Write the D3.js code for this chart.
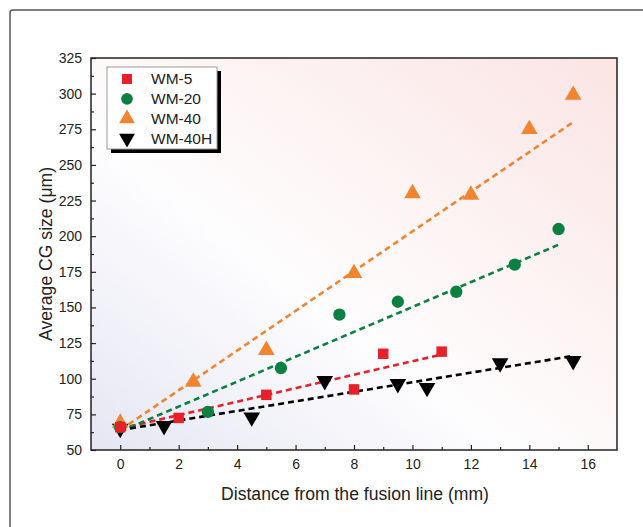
<!DOCTYPE html>
<html>
<head>
<meta charset="utf-8">
<script src="https://cdn.jsdelivr.net/npm/d3@7"></script>
<style>
  body { margin: 0; background: #fff; }
  text { font-family: "Liberation Sans", Arial, sans-serif; }
</style>
</head>
<body>
<svg id="chart" width="643" height="527"></svg>
<script>
// data
const wm5X = [0, 2, 5, 8, 9, 11];
const wm5Y = [66, 72.5, 88.7, 92.5, 117.5, 119];
const wm20X = [0, 3, 5.5, 7.5, 9.5, 11.5, 13.5, 15];
const wm20Y = [66, 76.7, 107.5, 145, 154, 161, 180, 205];
const wm40X = [0, 2.5, 5, 8, 10, 12, 14, 15.5];
const wm40Y = [69, 97.8, 120, 174, 230, 229, 275, 299];
const wm40hX = [0, 1.5, 4.5, 7, 9.5, 10.5, 13, 15.5];
const wm40hY = [65, 67, 73, 98.5, 96.4, 93.7, 111, 112.5];
// fitted trend lines [x start, y start, x end, y end]
const fit5 = [0, 65, 11, 117];
const fit20 = [0, 63, 15, 194];
const fit40 = [0, 64, 15.5, 280];
const fit40h = [0, 64, 15.5, 116];

const xTicks = [0, 2, 4, 6, 8, 10, 12, 14, 16];
const yTicks = [50, 75, 100, 125, 150, 175, 200, 225, 250, 275, 300, 325];

const svg = d3.select("#chart");
const margin = { top: 58, right: 26, bottom: 77, left: 91 };
const width = 643 - margin.left - margin.right;
const height = 527 - margin.top - margin.bottom;

// outer frame
svg.append("rect")
  .attr("x", 10).attr("y", 10)
  .attr("width", 700).attr("height", 600)
  .attr("rx", 3)
  .attr("fill", "none")
  .attr("stroke", "#555")
  .attr("stroke-width", 1.5);

const defs = svg.append("defs");
const grad = defs.append("linearGradient")
  .attr("id", "bg")
  .attr("x1", "0%").attr("y1", "100%")
  .attr("x2", "100%").attr("y2", "0%");
grad.append("stop").attr("offset", "0%").attr("stop-color", "#e6e6f3");
grad.append("stop").attr("offset", "40%").attr("stop-color", "#fdfdfe");
grad.append("stop").attr("offset", "60%").attr("stop-color", "#fdf5f5");
grad.append("stop").attr("offset", "100%").attr("stop-color", "#fbe4e4");

const x = d3.scaleLinear().domain([-1, 17]).range([0, width]);
const y = d3.scaleLinear().domain([50, 325]).range([height, 0]);

const g = svg.append("g")
  .attr("transform", `translate(${margin.left},${margin.top})`);

g.append("rect")
  .attr("width", width).attr("height", height)
  .attr("fill", "url(#bg)");

// axes with inward ticks
const xAxis = g.append("g")
  .attr("transform", `translate(0,${height})`)
  .call(d3.axisBottom(x).tickValues(xTicks).tickSize(-5).tickPadding(9));
const xMinor = g.append("g")
  .attr("transform", `translate(0,${height})`)
  .call(d3.axisBottom(x).tickValues(xTicks.map((d) => d + 1).filter((d) => d < 17))
    .tickSize(-3).tickFormat(""));
const yAxis = g.append("g")
  .call(d3.axisLeft(y).tickValues(yTicks).tickSize(-5).tickPadding(9));
const yMinor = g.append("g")
  .call(d3.axisLeft(y).tickValues(yTicks.slice(0, -1).map((d) => d + 12.5))
    .tickSize(-3).tickFormat(""));

[xAxis, xMinor, yAxis, yMinor].forEach((a) => {
  a.select(".domain").remove();
  a.selectAll(".tick line").attr("stroke", "#222").attr("stroke-width", 1.2);
  a.selectAll(".tick text")
    .attr("fill", "#222")
    .style("font-size", "14px")
    .style("font-family", "Liberation Sans, Arial, sans-serif");
});

g.append("rect")
  .attr("width", width).attr("height", height)
  .attr("fill", "none")
  .attr("stroke", "#222")
  .attr("stroke-width", 1.5);

// axis titles
svg.append("text")
  .attr("x", margin.left + width / 2 + 1)
  .attr("y", 500)
  .attr("text-anchor", "middle")
  .style("font-size", "17.6px")
  .attr("fill", "#222")
  .text("Distance from the fusion line (mm)");

svg.append("text")
  .attr("transform", `translate(52,${margin.top + height / 2}) rotate(-90)`)
  .attr("text-anchor", "middle")
  .style("font-size", "17.6px")
  .attr("fill", "#222")
  .text("Average CG size (μm)");

const series = [
  { name: "WM-5", xs: wm5X, ys: wm5Y, fit: fit5, color: "#e8202a", sym: d3.symbolSquare, size: 110, rot: 0 },
  { name: "WM-20", xs: wm20X, ys: wm20Y, fit: fit20, color: "#0b8040", sym: d3.symbolCircle, size: 120, rot: 0 },
  { name: "WM-40", xs: wm40X, ys: wm40Y, fit: fit40, color: "#f28430", sym: d3.symbolTriangle, size: 120, rot: 0 },
  { name: "WM-40H", xs: wm40hX, ys: wm40hY, fit: fit40h, color: "#000", sym: d3.symbolTriangle, size: 120, rot: 180 }
];

// fit lines
series.forEach((s) => {
  g.append("line")
    .attr("x1", x(s.fit[0])).attr("y1", y(s.fit[1]))
    .attr("x2", x(s.fit[2])).attr("y2", y(s.fit[3]))
    .attr("stroke", s.color)
    .attr("stroke-width", 2.6)
    .attr("stroke-dasharray", "6,4");
});

// markers
series.slice().reverse().forEach((s) => {
  g.append("g").selectAll("path")
    .data(s.xs.map((d, i) => [d, s.ys[i]]))
    .join("path")
    .attr("d", d3.symbol().type(s.sym).size(s.size))
    .attr("transform", (d) => `translate(${x(d[0])},${y(d[1])}) rotate(${s.rot})`)
    .attr("fill", s.color);
});

// legend
const lg = svg.append("g").attr("transform", "translate(107,67)");
lg.append("rect")
  .attr("x", 4).attr("y", 4)
  .attr("width", 110).attr("height", 82)
  .attr("fill", "#000");
lg.append("rect")
  .attr("width", 110).attr("height", 82)
  .attr("fill", "#fff")
  .attr("stroke", "#999")
  .attr("stroke-width", 1);
series.forEach((s, i) => {
  const row = lg.append("g").attr("transform", `translate(0,${12 + i * 19.8})`);
  row.append("path")
    .attr("d", d3.symbol().type(s.sym).size(s.size * 0.9))
    .attr("transform", `translate(20,0) rotate(${s.rot})`)
    .attr("fill", s.color);
  row.append("text")
    .attr("x", 44)
    .attr("dy", "0.35em")
    .style("font-size", "15.5px")
    .attr("fill", "#222")
    .text(s.name);
});
</script>
</body>
</html>
